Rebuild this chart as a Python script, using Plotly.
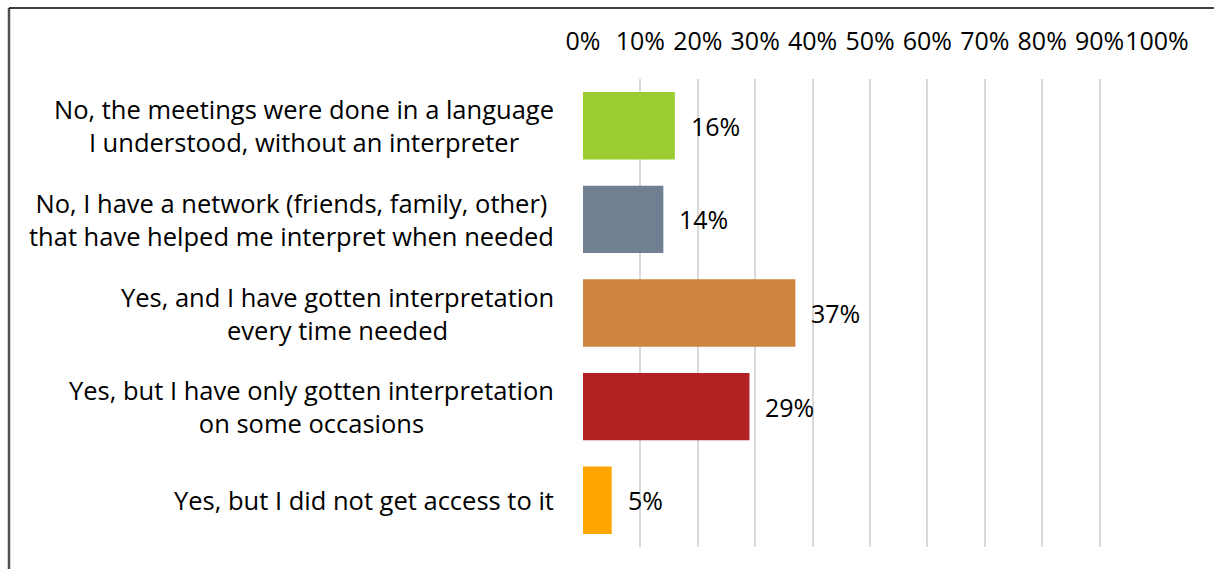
import plotly.graph_objects as go

categories = [
    "No, the meetings were done in a language<br>I understood, without an interpreter",
    "No, I have a network (friends, family, other)<br>that have helped me interpret when needed",
    "Yes, and I have gotten interpretation<br>every time needed",
    "Yes, but I have only gotten interpretation<br>on some occasions",
    "Yes, but I did not get access to it",
]
values = [16, 14, 37, 29, 5]
colors = ["#9ACD32", "#708090", "#CD853F", "#B22222", "#FFA500"]
tick_vals = [0, 10, 20, 30, 40, 50, 60, 70, 80, 90, 100]
tick_text = ["0%", "10%", "20%", "30%", "40%", "50%", "60%", "70%", "80%", "90%", "100%"]

W, H = 1214, 569
L, R, T, B = 583, 57, 79, 22
FONT = "Open Sans"

fig = go.Figure(
    go.Bar(
        x=values,
        y=list(range(len(categories))),
        orientation="h",
        marker=dict(color=colors, line=dict(width=0)),
        hoverinfo="skip",
    )
)

annotations = []
for i, (cat, v) in enumerate(zip(categories, values)):
    annotations.append(dict(
        x=0, xref="paper", y=i, yref="y", text=cat, showarrow=False,
        xanchor="right", yanchor="middle", align="center", xshift=-27,
        font=dict(family=FONT, size=25.5, color="#000000"),
    ))
    annotations.append(dict(
        x=v, xref="x", y=i, yref="y", text=f"{v}%", showarrow=False,
        xanchor="left", yanchor="middle", xshift=14,
        font=dict(family=FONT, size=25, color="#000000"),
    ))

pw = W - L - R
ph = H - T - B
x_left = (9 - L) / pw
y_top = 1 + (T - 8) / ph
shapes = [
    dict(type="line", xref="paper", yref="paper", x0=x_left, x1=x_left,
         y0=y_top, y1=-1, line=dict(color="#505050", width=2.5)),
    dict(type="line", xref="paper", yref="paper", x0=x_left, x1=2,
         y0=y_top, y1=y_top, line=dict(color="#000000", width=1.5)),
]

fig.update_layout(
    width=W, height=H,
    margin=dict(l=L, r=R, t=T, b=B, pad=0),
    paper_bgcolor="white", plot_bgcolor="white",
    showlegend=False,
    bargap=0.28,
    annotations=annotations,
    shapes=shapes,
    xaxis=dict(
        range=[0, 100], side="top", tickvals=tick_vals, ticktext=tick_text,
        tickangle=0,
        showgrid=True, gridcolor="#D9D9D9", gridwidth=2,
        zeroline=False, showline=False,
        ticks="outside", ticklen=18, tickcolor="rgba(0,0,0,0)",
        tickfont=dict(family=FONT, size=25, color="#000000"),
        fixedrange=True,
    ),
    yaxis=dict(
        range=[len(categories) - 0.5, -0.5], showticklabels=False,
        showgrid=False, zeroline=False, showline=False, fixedrange=True,
    ),
)

fig.write_html("out.html", config={"displayModeBar": False})
